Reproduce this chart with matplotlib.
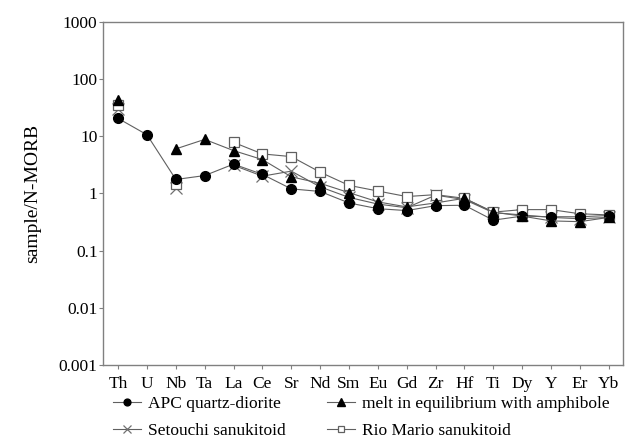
import numpy as np
import matplotlib.pyplot as plt

plt.rcParams['font.family'] = 'Liberation Serif'

elements = ['Th', 'U', 'Nb', 'Ta', 'La', 'Ce', 'Sr', 'Nd', 'Sm', 'Eu',
            'Gd', 'Zr', 'Hf', 'Ti', 'Dy', 'Y', 'Er', 'Yb']
nan = np.nan

# N-MORB normalised concentrations (missing element = gap in the line)
apc_qd = [20.5, 10.6, 1.75, 2.05, 3.25, 2.15, 1.2, 1.08, 0.68, 0.54,
          0.5, 0.61, 0.62, 0.34, 0.4, 0.39, 0.39, 0.41]
melt_amph = [43, nan, 6.0, 8.8, 5.6, 3.9, 1.95, 1.5, 1.03, 0.71,
             0.58, 0.68, 0.82, 0.47, 0.4, 0.33, 0.32, 0.38]
setouchi = [30, nan, 1.25, nan, 3.1, 2.0, 2.45, 1.3, 0.85, 0.65,
            0.56, 0.93, 0.78, 0.46, 0.42, 0.38, 0.36, 0.38]
rio_mario = [35, nan, 1.45, nan, 7.8, 4.9, 4.4, 2.35, 1.38, 1.1,
             0.88, 0.95, 0.82, 0.47, 0.52, 0.52, 0.44, 0.42]

x = np.arange(len(elements))
line_col = '#606060'
spine_col = '#808080'

fig = plt.figure(figsize=(6.25, 4.38), dpi=100)
ax = fig.add_axes([0.165, 0.167, 0.832, 0.783])

ax.plot(x, apc_qd, '-', color=line_col, lw=0.8, marker='o', ms=7,
        mfc='black', mec='black', label='APC quartz-diorite', zorder=4)
ax.plot(x, setouchi, '-', color=line_col, lw=0.8, marker='x', ms=9,
        mec='#707070', mew=0.9, label='Setouchi sanukitoid', zorder=2)
ax.plot(x, melt_amph, '-', color=line_col, lw=0.8, marker='^', ms=7.5,
        mfc='black', mec='black', label='melt in equilibrium with amphibole',
        zorder=5)
ax.plot(x, rio_mario, '-', color=line_col, lw=0.8, marker='s', ms=7,
        mfc='white', mec='#606060', mew=0.9, label='Rio Mario sanukitoid',
        zorder=3)

ax.set_yscale('log')
ax.set_ylim(0.001, 1000)
ax.set_xlim(-0.52, 17.5)
ax.set_yticks([0.001, 0.01, 0.1, 1, 10, 100, 1000])
ax.set_yticklabels(['0.001', '0.01', '0.1', '1', '10', '100', '1000'])
ax.minorticks_off()
ax.set_xticks(x)
ax.set_xticklabels(elements)
ax.tick_params(axis='both', direction='out', length=3, width=0.8,
               color=spine_col, labelsize=12.5, pad=1)
ax.tick_params(axis='x', pad=5)
for s in ax.spines.values():
    s.set_color(spine_col)
    s.set_linewidth(1.0)

ax.set_ylabel('sample/N-MORB', fontsize=14, labelpad=13)

# legend handles: column 1 = APC, Setouchi; column 2 = melt, Rio Mario
fig.legend(loc='upper left', bbox_to_anchor=(0.181, 0.096), ncol=2,
           frameon=False, fontsize=12.5, handlelength=1.6,
           handletextpad=0.4, columnspacing=2.4, labelspacing=0.62,
           borderpad=0, borderaxespad=0, markerscale=0.7)

fig.savefig('out.png', dpi=100)
